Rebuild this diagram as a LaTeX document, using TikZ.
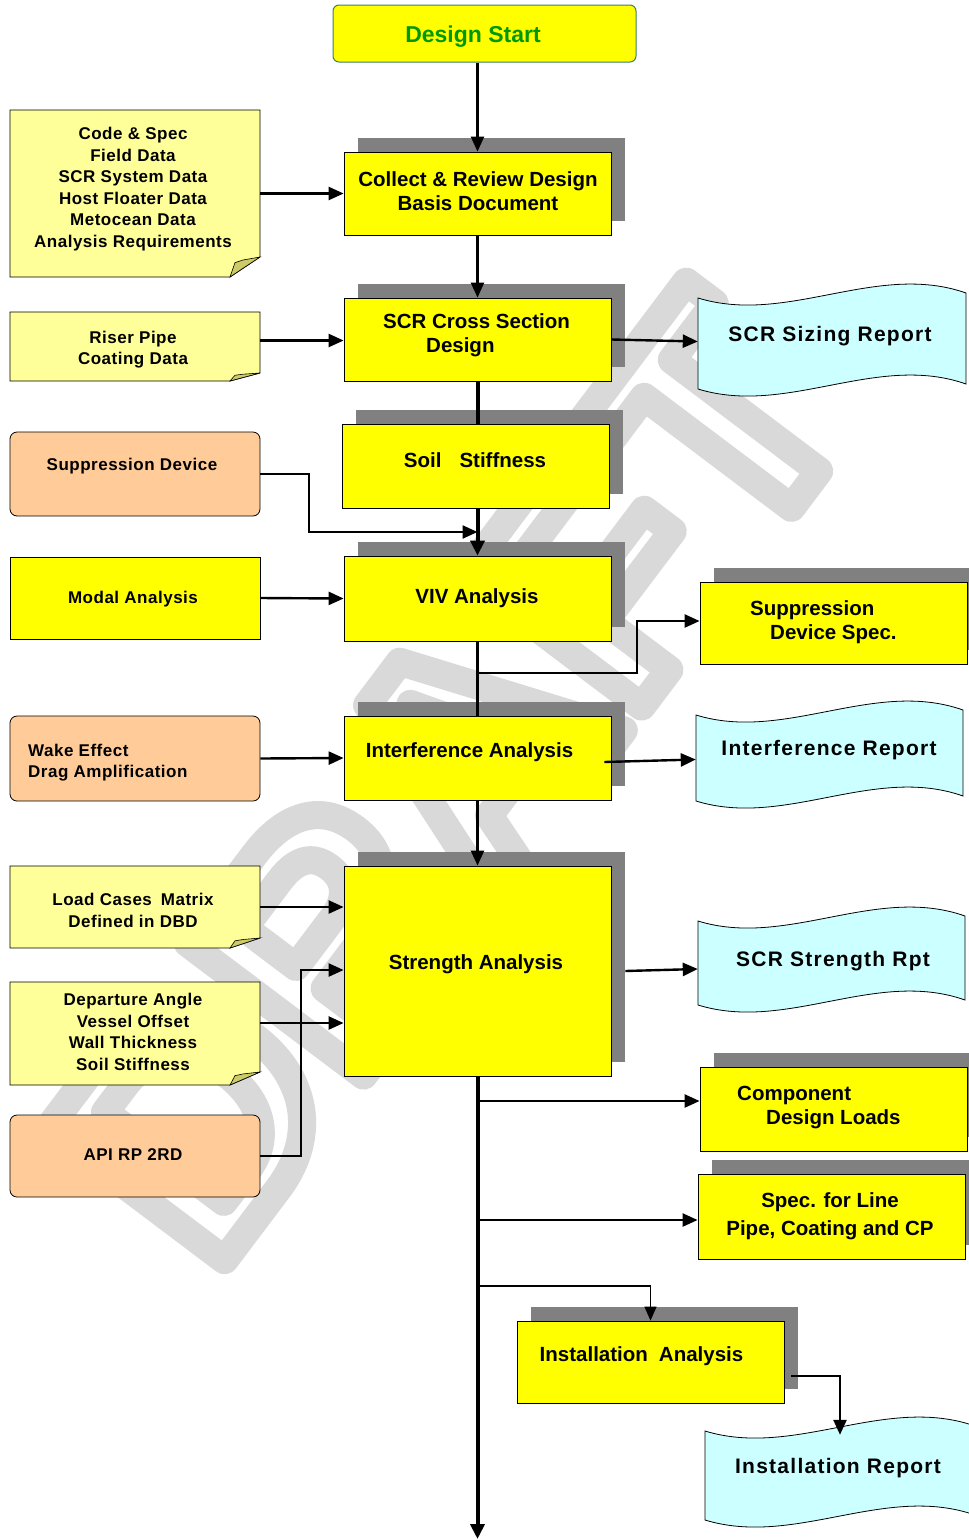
\documentclass[tikz,border=0pt]{standalone}
\usepackage{fontspec}
\setmainfont{Liberation Sans}
\usetikzlibrary{arrows.meta,shadows,calc}

\definecolor{byellow}{HTML}{FFFF00}
\definecolor{nyellow}{HTML}{FFFF99}
\definecolor{nfold}{HTML}{CCCC66}
\definecolor{peach}{HTML}{FFCC99}
\definecolor{dcyan}{HTML}{CCFFFF}
\definecolor{shgray}{HTML}{808080}
\definecolor{dsgreen}{HTML}{009900}
\definecolor{dsborder}{HTML}{3C7F6A}

\newcommand\boxfont{\bfseries\fontsize{20.5}{24}\selectfont}
\newcommand\notefont{\bfseries\fontsize{17}{21.6}\selectfont\addfontfeatures{LetterSpace=3}}
\newcommand\docfont{\bfseries\fontsize{21}{25}\selectfont\addfontfeatures{LetterSpace=6}}
\newcommand\outlinetext[1]{\special{pdf:literal direct 1 Tr 28 w 1 j 1 J 0.85 0.85 0.85 RG}#1\special{pdf:literal direct 0 Tr 0 j 0 J}}

% note: name x1 y1 x2 y2 foldheight
\newcommand\notebox[6]{%
  \filldraw[draw=black, line width=0.8pt, fill=nyellow]
    (#2,#3) -- (#4,#3) -- (#4,#5-#6) -- (#4-30,#5) -- (#2,#5) -- cycle;
  \filldraw[draw=black, line width=0.6pt, fill=nfold]
    (#4-30,#5) -- (#4-25,#5-0.72*#6) -- (#4-17,#5-0.85*#6) -- (#4,#5-#6) -- cycle;
  \node[minimum width={#4-#2}, minimum height={#5-#3}] (#1) at ({(#2+#4)/2},{(#3+#5)/2}) {};
}
% wavy document: name x1 y1 x2 y2
\newcommand\wavedoc[5]{%
  \pgfmathsetmacro\wdw{#4-#2}%
  \filldraw[draw=black, line width=0.8pt, fill=dcyan]
    (#2,#3+11) .. controls ({#2+\wdw/3},{#3+38.5}) and ({#2+2*\wdw/3},{#3-25.5}) .. (#4,#3+6)
    -- (#4,#5-12) .. controls ({#2+2*\wdw/3},{#5-43.5}) and ({#2+\wdw/3},{#5+20.5}) .. (#2,#5-7) -- cycle;
  \node[minimum width=\wdw, minimum height={#5-#3-10}] (#1) at ({(#2+#4)/2},{(#3+#5)/2}) {};
}

\begin{document}
\begin{tikzpicture}[x=1pt,y=-1pt,
  every node/.style={inner sep=0pt},
  mbox/.style={draw=black, line width=0.8pt, fill=byellow, minimum width=267,
    drop shadow={shadow xshift=13.5pt, shadow yshift=14pt, fill=shgray, opacity=1}},
  plainbox/.style={draw=black, line width=0.8pt, fill=byellow, minimum width=250},
  peachbox/.style={draw=black, line width=0.8pt, fill=peach, rounded corners=7pt, minimum width=250},
  txt/.style={align=center, font=\boxfont},
  ntxt/.style={align=center, font=\notefont},
  dtxt/.style={align=center, font=\docfont},
  conn/.style={line width=2.4pt, -{Triangle[length=15pt,width=13pt]}},
  plainline/.style={line width=2.4pt},
  thickline/.style={line width=4pt},
  thickconn/.style={line width=4pt, -{Triangle[length=15pt,width=14pt]}},
  thinconn/.style={line width=1.3pt, -{Triangle[length=14pt,width=12pt]}},
]
\useasboundingbox (0,0) rectangle (969,1540);

% watermark (outlined letters)
\node[rotate=53, font=\bfseries\fontsize{320}{320}\selectfont] (wm) at (450,778) {\outlinetext{DRAFT}};

% start
\node[draw=dsborder, line width=1pt, fill=byellow, rounded corners=6pt,
      minimum width=303, minimum height=57] (start) at (484.5,33.5) {};
\node[font=\bfseries\fontsize{23}{26}\selectfont, text=dsgreen] (start-t) at (473,36.5) {Design Start};

% main column
\node[mbox, minimum height=83] (collect) at (477.5,193.5) {};
\node[txt] (collect-t) at (478,191) {Collect \& Review Design\\Basis Document};

\node[mbox, minimum height=83] (scr) at (477.5,339.5) {};
\node[txt, align=left, anchor=west] (scr-t) at (383,335.5) {SCR Cross Section\\\hspace*{43pt}Design};

\node[mbox, minimum height=84] (soil) at (475.5,466) {};
\node[txt] (soil-t) at (475,460) {Soil\hspace{18pt}Stiffness};

\node[mbox, minimum height=85] (viv) at (477.5,598.5) {};
\node[txt] (viv-t) at (477,598) {VIV Analysis};

\node[mbox, minimum height=84] (interf) at (477.5,758) {};
\node[txt] (interf-t) at (469.5,752) {Interference Analysis};

\node[mbox, minimum height=210] (strength) at (477.5,971) {};
\node[txt] (strength-t) at (476,964) {Strength Analysis};

% right boxes
\node[mbox, minimum height=82] (supspec) at (833.5,623) {};
\node[txt, align=left, anchor=west] (supspec-t) at (750,622.5) {Suppression\\\hspace*{20pt}Device Spec.};

\node[mbox, minimum height=84] (component) at (833.5,1109) {};
\node[txt, align=left, anchor=west] (component-t) at (737,1108) {Component\\\hspace*{29pt}Design Loads};

\node[mbox, minimum height=85] (specline) at (831.5,1216.5) {};
\node[txt, font=\bfseries\fontsize{20.5}{28}\selectfont] (specline-t) at (830,1216) {Spec. for Line\\Pipe, Coating and CP};

\node[mbox, minimum height=82] (install) at (650.5,1362) {};
\node[txt] (install-t) at (641.5,1356) {Installation\hspace{11pt}Analysis};

% left notes
\notebox{code}{10}{110}{260}{277}{20}
\node[ntxt] (code-t) at (133,189) {Code \& Spec\\Field Data\\SCR System Data\\Host Floater Data\\Metocean Data\\Analysis Requirements};

\notebox{riser}{10}{312}{260}{381}{8}
\node[ntxt] (riser-t) at (133,349.5) {Riser Pipe\\Coating Data};

\notebox{load}{10}{866}{260}{948}{10}
\node[ntxt] (load-t) at (133,910.5) {Load Cases\hspace{9pt}Matrix\\Defined in DBD};

\notebox{depart}{10}{982}{260}{1085}{13}
\node[ntxt] (depart-t) at (133,1031.75) {Departure Angle\\Vessel Offset\\Wall Thickness\\Soil Stiffness};

% peach boxes
\node[peachbox, minimum height=84] (supdev) at (135,474) {};
\node[ntxt] (supdev-t) at (132,466) {Suppression Device};

\node[peachbox, minimum height=85] (wake) at (135,758.5) {};
\node[ntxt, align=left, anchor=west] (wake-t) at (28,762.5) {Wake Effect\\Drag Amplification};

\node[peachbox, minimum height=82] (api) at (135,1156) {};
\node[ntxt] (api-t) at (133,1155) {API RP 2RD};

% modal
\node[plainbox, minimum height=82] (modal) at (135,598) {};
\node[ntxt] (modal-t) at (133,599) {Modal Analysis};

% documents
\wavedoc{sizing}{698}{287}{966}{396}
\node[dtxt] (sizing-t) at (830,336) {SCR Sizing Report};
\wavedoc{interfrep}{696}{704}{963}{808}
\node[dtxt] (interfrep-t) at (829,750) {Interference Report};
\wavedoc{strengthrpt}{698}{910}{965}{1012}
\node[dtxt] (strengthrpt-t) at (833,961) {SCR Strength Rpt};
\wavedoc{instrep}{705}{1420}{975}{1527}
\node[dtxt] (instrep-t) at (838,1468) {Installation Report};

% connectors
\draw[conn] (collect.north |- start.south) -- (collect.north);
\draw[conn] (code.east |- collect.west) -- (collect.west);
\draw[conn] (collect.south) -- (scr.north);
\draw[conn] ([yshift=6pt]riser.east) -- ([yshift=6pt]riser.east -| scr.west);
\draw[conn] (scr.east) -- (sizing.west);
\draw[thickline] (scr.south) -- (scr.south |- soil.north);
\coordinate (sdk) at (309,532);
\draw[conn] (supdev.east) -| (sdk) -- (sdk -| viv.north);
\draw[thickconn] (viv.north |- soil.south) -- (viv.north);
\draw[conn] (modal.east) -- (viv.west);
\draw[plainline] (viv.south) -- (interf.north);
\coordinate (vb) at (637,673);
\draw[conn] (viv.south |- vb) -- (vb) |- ([yshift=2pt]supspec.west);
\draw[conn] (wake.east) -- (interf.west);
\draw[conn] ([xshift=-7pt,yshift=-4pt]interf.east) -- ([yshift=-3.5pt]interfrep.west);
\draw[conn] (interf.south) -- (strength.north);
\draw[conn] (load.east) -- (load.east -| strength.west);
\draw[conn] ([yshift=10.5pt]depart.east) -- ([yshift=10.5pt]depart.east -| strength.west);
\coordinate (ab) at (301,970);
\draw[conn] (api.east) -| (ab) -- (ab -| strength.west);
\draw[conn] ([xshift=14pt]strength.east) -- ([yshift=-8pt]strengthrpt.west);
\coordinate (bottom) at (477.5,1539);
\draw[thickconn] (strength.south) -- (bottom);
\draw[conn] ([yshift=8pt]component.west -| strength.south) -- ([yshift=8pt]component.west);
\draw[conn] ([yshift=-3.5pt]specline.west -| strength.south) -- ([yshift=-3.5pt]specline.west);
\coordinate (ib) at (650.5,1286);
\draw[thinconn] (ib -| strength.south) -- (ib) -- (install.north);
\draw[conn] ([xshift=7pt,yshift=-14pt]install.east) -| ([yshift=-10pt]instrep.north);
\end{tikzpicture}
\end{document}
